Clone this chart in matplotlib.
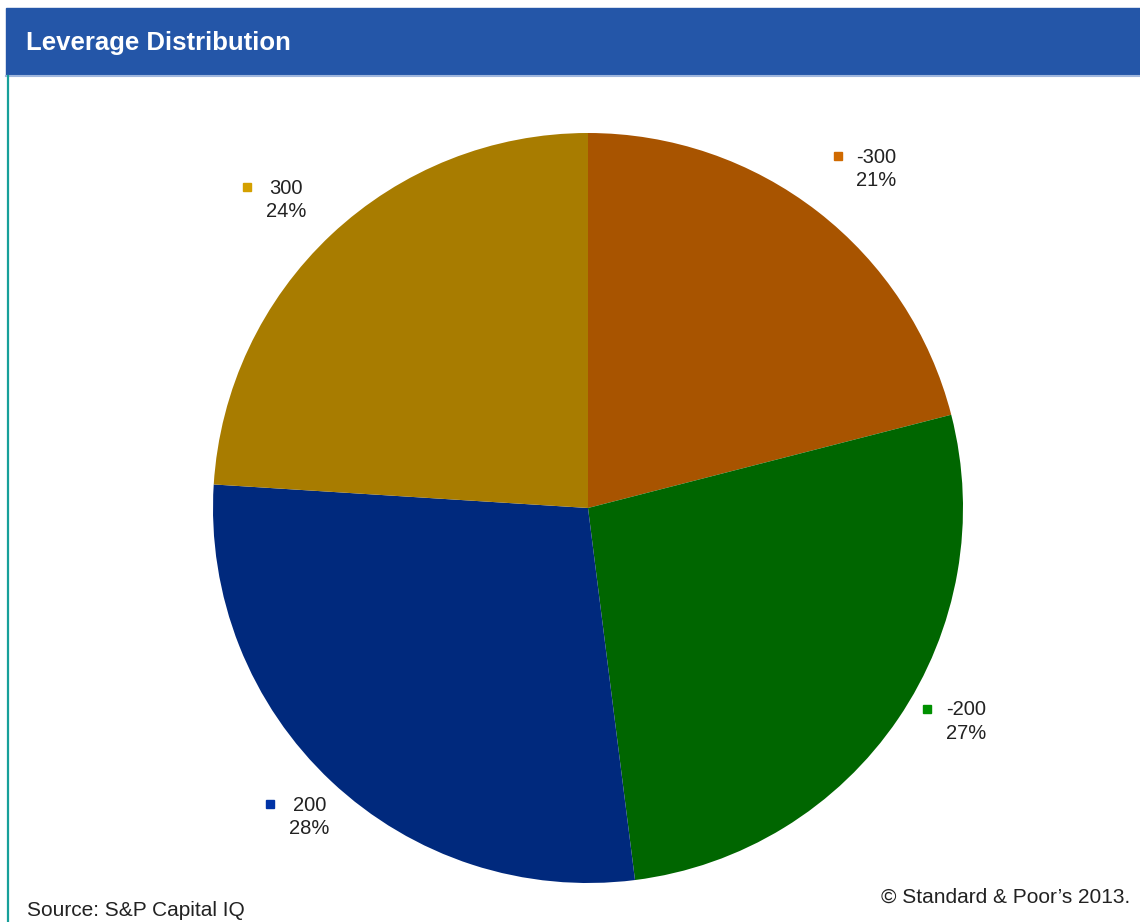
import numpy as np
import matplotlib
matplotlib.use("Agg")
import matplotlib.pyplot as plt
from matplotlib.patches import Rectangle
from matplotlib.lines import Line2D
from matplotlib.transforms import offset_copy

plt.rcParams['font.family'] = ['Liberation Sans', 'DejaVu Sans']

# leverage buckets, clockwise from 12 o'clock
categories = ['-300', '-200', '200', '300']
shares = [21, 27, 28, 24]
slice_colors = ['#a85400', '#006600', '#00297d', '#a87c00']
marker_colors = ['#d06a00', '#009000', '#0033a6', '#d4a000']
# small hand nudges for the callouts, in pixels
label_nudge = [(13, -5), (9, 31), (10, 8), (-13, -9)]

W, H = 1140, 922
fig = plt.figure(figsize=(W / 100, H / 100), dpi=100)

def fx(px):
    return px / W

def fy(py):
    return 1 - py / H

# header bar
fig.patches.append(Rectangle((fx(6), fy(75)), 1 - fx(6), (75 - 8) / H,
                             transform=fig.transFigure, color='#2456a8', zorder=0))
fig.lines.append(Line2D([fx(6), 1], [fy(76), fy(76)], transform=fig.transFigure,
                        color='#9fb6dd', lw=1.5))
# teal frame on the left
fig.lines.append(Line2D([fx(7.5), fx(7.5)], [fy(76), 0], transform=fig.transFigure,
                        color='#17a09a', lw=1.6))

fig.text(fx(26), fy(43), 'Leverage Distribution', color='white', fontsize=18.5,
         fontweight='bold', ha='left', va='center')

# pie
cx, cy, r = 588, 508, 375
ax = fig.add_axes([fx(cx - r), fy(cy + r), 2 * r / W, 2 * r / H])
wedges, _ = ax.pie(shares, colors=slice_colors, startangle=90, counterclock=False,
                   radius=1, wedgeprops=dict(linewidth=0))
ax.set_xlim(-1, 1)
ax.set_ylim(-1, 1)
ax.axis('off')

for w, cat, pct, mc, (nx, ny) in zip(wedges, categories, shares, marker_colors, label_nudge):
    mid = np.deg2rad((w.theta1 + w.theta2) / 2)
    lx, ly = 1.16 * np.cos(mid), 1.16 * np.sin(mid)
    txt_tr = offset_copy(ax.transData, fig=fig, x=9 + nx, y=ny, units='dots')
    mk_tr = offset_copy(ax.transData, fig=fig, x=-30 + nx, y=13 + ny, units='dots')
    ax.text(lx, ly, f'{cat}\n{pct}%', transform=txt_tr, ha='center', va='center',
            multialignment='center', fontsize=14.5, color='#222222',
            linespacing=1.28, clip_on=False)
    ax.plot([lx], [ly], marker='s', ms=6, color=mc, transform=mk_tr,
            clip_on=False, linestyle='none')

# footer
fig.text(fx(27), fy(910), 'Source: S&P Capital IQ', fontsize=15, color='#222222',
         ha='left', va='center')
fig.text(fx(1130), fy(897), '\u00a9 Standard & Poor\u2019s 2013.', fontsize=15,
         color='#222222', ha='right', va='center')

fig.savefig('out.png', dpi=100, facecolor='white')
